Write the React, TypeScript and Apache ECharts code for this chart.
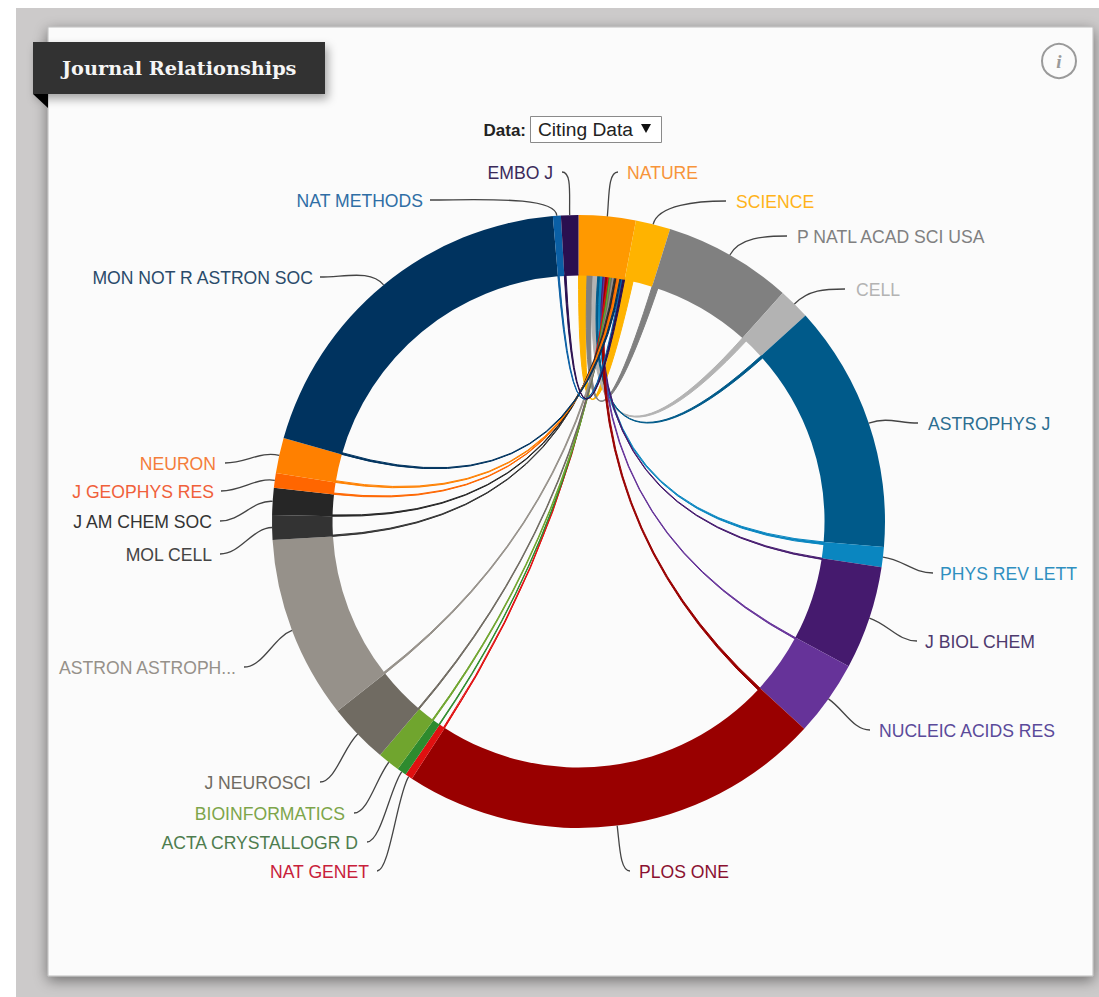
import React, { useEffect, useRef } from "react";
import * as echarts from "echarts";

// Journals in clockwise order from twelve o'clock
const journals = [
  "NATURE", "SCIENCE", "P NATL ACAD SCI USA", "CELL", "ASTROPHYS J", "PHYS REV LETT", "J BIOL CHEM",
  "NUCLEIC ACIDS RES", "PLOS ONE", "NAT GENET", "ACTA CRYSTALLOGR D", "BIOINFORMATICS", "J NEUROSCI",
  "ASTRON ASTROPH...", "MOL CELL", "J AM CHEM SOC", "J GEOPHYS RES", "NEURON", "MON NOT R ASTRON SOC",
  "NAT METHODS", "EMBO J",
];
// Size of each journal's arc (estimated citing share)
const citing = [108, 66, 244, 60, 470, 38, 196, 144, 804, 14, 18, 42, 115, 347, 47, 51, 28, 67, 694, 15, 33];
// Width of the ribbon linking each journal to NATURE (estimated)
const linksToNature = [0, 20, 14, 11, 6, 6, 3, 3, 6, 3, 2, 3, 3, 4, 3, 3, 3, 4, 4, 3, 4];

const arcColors = [
  "#FF9900", "#FFB300", "#808080", "#B3B3B3", "#005A8A", "#0A86C0", "#451A6E", "#663399", "#990000", "#E01010",
  "#2E8B2E", "#70A52E", "#706B62", "#96918A", "#333333", "#262626", "#FF6600", "#FF8000", "#00335F", "#0A5FA5",
  "#2A0F50",
];
const textColors = [
  "#F7943A", "#FFB31A", "#808080", "#B3B3B3", "#2C6E91", "#2F8FC0", "#4E3A6E", "#5A4A9A", "#8A1030", "#C8203A",
  "#4E7D4E", "#7DA54A", "#706B62", "#96918A", "#444444", "#333333", "#F0603A", "#F47D3A", "#2A4A6A", "#2F6EA5",
  "#3A2A5A",
];

// Layout only: label anchor, and where its leader line meets the label
const labelLayout: [number, number, "left" | "right", number][] = [
  [627, 173, "left", 618], [736, 202, "left", 726], [797, 237, "left", 787], [856, 290, "left", 845],
  [928, 424, "left", 918], [940, 574, "left", 933], [925, 642, "left", 917], [879, 731, "left", 870],
  [639, 872, "left", 630], [369, 872, "right", 377], [358, 843, "right", 367], [345, 814, "right", 354],
  [311, 783, "right", 320], [236, 668, "right", 244], [212, 555, "right", 220], [212, 522, "right", 220],
  [214, 492, "right", 221], [216, 464, "right", 225], [313, 278, "right", 320], [423, 201, "right", 430],
  [553, 173, "right", 562],
];

const CX = 578.5;
const CY = 521.5;
const R_IN = 246;
const R_OUT = 306.5;
const FONT = "Liberation Sans";

const total = citing.reduce((a, b) => a + b, 0);
const toAngle = (v: number) => (v / total) * Math.PI * 2;
const startAngles: number[] = [];
citing.reduce((acc, v, i) => {
  startAngles[i] = acc;
  return acc + toAngle(v);
}, 0);
const pt = (a: number, r: number) => [CX + r * Math.sin(a), CY - r * Math.cos(a)];

function ribbonPath(i: number) {
  const w = toAngle(linksToNature[i]);
  let t0 = 0;
  for (let k = 0; k < i; k++) t0 += toAngle(linksToNature[k]);
  const s0 = startAngles[i];
  const r = R_IN + 1;
  const [a, b, c, d] = [pt(s0, r), pt(s0 + w, r), pt(t0, r), pt(t0 + w, r)];
  return (
    `M${a[0]} ${a[1]}A${r} ${r} 0 0 1 ${b[0]} ${b[1]}` +
    `Q${CX} ${CY} ${c[0]} ${c[1]}` +
    `A${r} ${r} 0 0 1 ${d[0]} ${d[1]}` +
    `Q${CX} ${CY} ${a[0]} ${a[1]}Z`
  );
}

function leaderPath(i: number) {
  const mid = startAngles[i] + toAngle(citing[i]) / 2;
  const [rx, ry] = pt(mid, R_OUT);
  const [kx, ky] = pt(mid, R_OUT + 20);
  const [, labelY, side, ex] = labelLayout[i];
  const ly = labelY - 1;
  const h = Math.max(10, 0.4 * Math.abs(rx - ex));
  const px = side === "left" ? ex - h : ex + h;
  return `M${rx} ${ry}C${kx} ${ky} ${px} ${ly} ${ex} ${ly}`;
}

export default function App() {
  const ref = useRef<HTMLDivElement>(null);
  useEffect(() => {
    document.body.style.margin = "0";
    const chart = echarts.init(ref.current!, null, { renderer: "svg" });
    chart.setOption({
      animation: false,
      backgroundColor: "#ffffff",
      graphic: [
        { type: "rect", shape: { x: 16, y: 8, width: 1083, height: 989 }, style: { fill: "#CCCACA" }, silent: true },
        {
          type: "rect",
          shape: { x: 48, y: 27, width: 1045, height: 949 },
          style: { fill: "#FBFBFB", stroke: "#BDBDBD", lineWidth: 1, shadowBlur: 14, shadowColor: "rgba(0,0,0,0.45)", shadowOffsetY: 4 },
          silent: true,
        },
        {
          type: "polygon",
          shape: { points: [[33, 94], [48, 94], [48, 108]] },
          style: { fill: "#000000" },
          silent: true,
        },
        {
          type: "rect",
          shape: { x: 33, y: 42, width: 292, height: 52 },
          style: { fill: "#333333", shadowBlur: 10, shadowColor: "rgba(0,0,0,0.35)", shadowOffsetX: 3, shadowOffsetY: 5 },
          silent: true,
        },
        {
          type: "text",
          x: 62,
          y: 68,
          style: { text: "Journal Relationships", fill: "#F5F5F5", font: "bold 19.3px 'DejaVu Serif'", verticalAlign: "middle" },
          silent: true,
        },
        { type: "circle", shape: { cx: 1059, cy: 61, r: 17 }, style: { fill: "none", stroke: "#9A9A9A", lineWidth: 2 }, silent: true },
        {
          type: "text",
          x: 1059,
          y: 61,
          style: { text: "i", fill: "#9A9A9A", font: "italic bold 19px 'Liberation Serif'", align: "center", verticalAlign: "middle" },
          silent: true,
        },
        {
          type: "text",
          x: 526,
          y: 130,
          style: { text: "Data:", fill: "#222222", font: "bold 17px 'Liberation Sans'", align: "right", verticalAlign: "middle" },
          silent: true,
        },
        { type: "rect", shape: { x: 530.5, y: 116.5, width: 131, height: 26 }, style: { fill: "#FFFFFF", stroke: "#8A8A8A", lineWidth: 1 }, silent: true },
        {
          type: "text",
          x: 538,
          y: 129,
          style: { text: "Citing Data", fill: "#222222", font: "19.2px 'Liberation Sans'", verticalAlign: "middle" },
          silent: true,
        },
        { type: "polygon", shape: { points: [[641, 124], [651, 124], [646, 133]] }, style: { fill: "#111111" }, silent: true },
      ],
      series: [
        {
          type: "custom",
          coordinateSystem: "none",
          silent: true,
          z: 2,
          data: linksToNature.map((v, i) => [i, v]),
          renderItem: (_: any, api: any) => {
            const i = api.value(0) as number;
            if (!linksToNature[i]) return null;
            return {
              type: "path",
              shape: { pathData: ribbonPath(i) },
              style: { fill: arcColors[i], stroke: arcColors[i], lineWidth: 1 },
            };
          },
        },
        {
          type: "pie",
          silent: true,
          z: 3,
          center: [CX, CY],
          radius: [R_IN, R_OUT],
          startAngle: 90,
          clockwise: true,
          avoidLabelOverlap: false,
          minShowLabelAngle: 0,
          data: journals.map((name, i) => ({
            name,
            value: citing[i],
            itemStyle: { color: arcColors[i] },
            label: { color: textColors[i] },
          })),
          label: { show: true, position: "outside", formatter: "{b}", fontFamily: FONT, fontSize: 17.6 },
          labelLine: { show: false },
          labelLayout: (p: any) => {
            const [x, y, align] = labelLayout[p.dataIndex];
            return { x, y, align, verticalAlign: "middle", hideOverlap: false };
          },
        },
        {
          type: "custom",
          coordinateSystem: "none",
          silent: true,
          z: 4,
          data: journals.map((_, i) => [i]),
          renderItem: (_: any, api: any) => {
            const i = api.value(0) as number;
            return { type: "path", shape: { pathData: leaderPath(i) }, style: { fill: "none", stroke: "#444444", lineWidth: 1.3 } };
          },
        },
      ],
    });
    return () => chart.dispose();
  }, []);
  return <div ref={ref} style={{ position: "absolute", left: 0, top: 0, width: 1099, height: 997 }} />;
}
